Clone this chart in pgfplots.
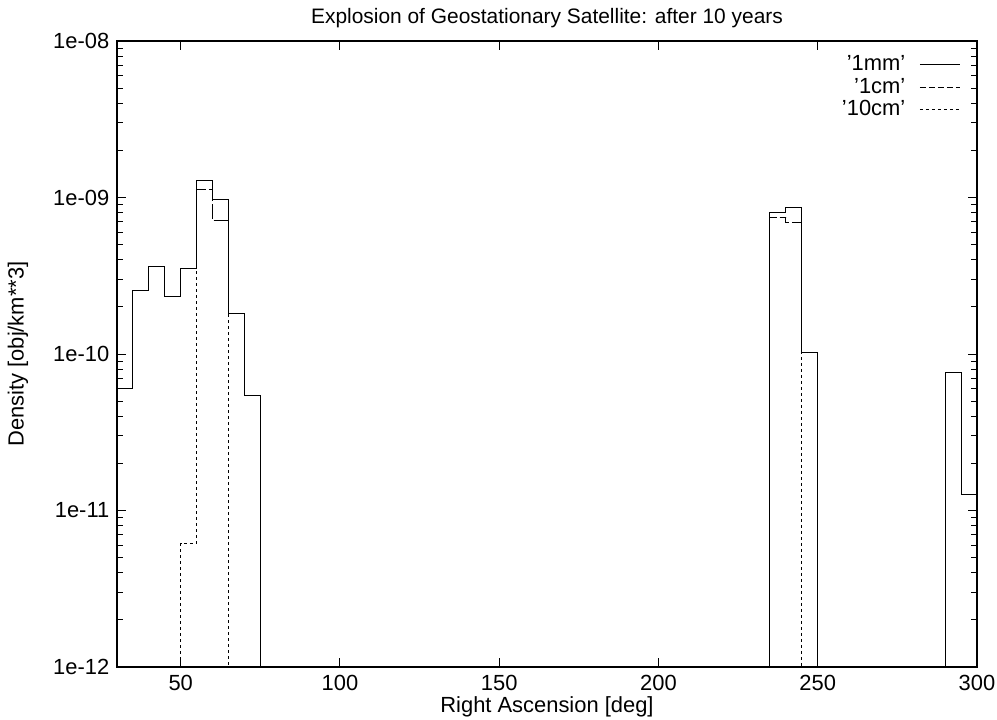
\documentclass[border=0pt]{standalone}
\usepackage{fontspec}
\setmainfont{Liberation Sans}
\usepackage{pgfplots}
\pgfplotsset{compat=1.18}
\usetikzlibrary{calc}

\begin{document}
\fontsize{11}{13}\selectfont
\begin{tikzpicture}
\begin{axis}[
  scale only axis,
  width=430bp,
  height=313bp,
  xmin=30, xmax=300,
  ymode=log,
  ymin=1e-12, ymax=1e-8,
  xtick={50,100,150,200,250,300},
  ytick={1e-12,1e-11,1e-10,1e-09,1e-08},
  yticklabels={1e-12,1e-11,1e-10,1e-09,1e-08},
  extra y ticks={2e-12,3e-12,4e-12,5e-12,6e-12,7e-12,8e-12,9e-12,
               2e-11,3e-11,4e-11,5e-11,6e-11,7e-11,8e-11,9e-11,
               2e-10,3e-10,4e-10,5e-10,6e-10,7e-10,8e-10,9e-10,
               2e-9,3e-9,4e-9,5e-9,6e-9,7e-9,8e-9,9e-9},
  extra y tick labels={},
  extra y tick style={major tick length=2.5bp},
  /pgf/number format/assume math mode=true,
  tick label style={font=\fontsize{11}{13}\selectfont},
  tick align=inside,
  tick pos=both,
  major tick length=4.5bp,
  every tick/.style={black,line width=0.5bp},
  axis line style={line width=0.6bp},
  title={Explosion of Geostationary Satellite: after 10 years},
  title style={font=\fontsize{10.5}{12}\selectfont,yshift=-3bp},
  xlabel={Right Ascension [deg]},
  ylabel={Density [obj/km**3]},
  xlabel style={font=\fontsize{11}{13}\selectfont,yshift=4.5bp},
  ylabel style={font=\fontsize{11}{13}\selectfont,yshift=5bp},
  legend style={draw=none,fill=none,at={(0.988,0.99)},anchor=north east,
                font=\fontsize{11}{13}\selectfont,row sep=-2bp,
                /tikz/column sep=5bp},
  legend cell align=right,
  legend plot pos=right,
  legend image code/.code={\draw[#1] (0bp,0bp) -- (20bp,0bp);},
  const plot mark left,
]
% 1mm
\addplot[black,solid,line width=0.5bp,mark=none] coordinates {
  (30,6.0e-11) (35,2.56e-10) (40,3.61e-10) (45,2.32e-10) (50,3.51e-10)
  (55,1.28e-9) (60,9.7e-10) (65,1.82e-10) (70,5.47e-11) (75,1e-14)
  (235,8.04e-10) (240,8.6e-10) (245,1.02e-10) (250,1e-14)
  (290,7.6e-11) (295,1.26e-11) (300,1.26e-11)};
% 1cm
\addplot[black,line width=0.5bp,mark=none,dash pattern=on 3bp off 1.5bp] coordinates {
  (30,6.0e-11) (35,2.56e-10) (40,3.61e-10) (45,2.32e-10) (50,3.51e-10)
  (55,1.12e-9) (60,7.08e-10) (65,1.82e-10) (70,5.47e-11) (75,1e-14)
  (235,7.5e-10) (240,6.9e-10) (245,1.02e-10) (250,1e-14)
  (290,7.6e-11) (295,1.26e-11) (300,1.26e-11)};
% 10cm
\addplot[black,line width=0.5bp,mark=none,dash pattern=on 1.5bp off 1.5bp] coordinates {
  (30,1e-14) (50,6.2e-12) (55,1.12e-9) (60,7.08e-10) (65,1e-14)
  (235,7.5e-10) (240,6.9e-10) (245,1e-14)
  (290,7.6e-11) (295,1.26e-11) (300,1.26e-11)};
\legend{'1mm','1cm','10cm'}
\end{axis}
\pgfresetboundingbox
\path ($(current axis.south west)+(-58.5bp,-26.5bp)$) rectangle
      ($(current axis.north east)+(10bp,20.5bp)$);
\end{tikzpicture}
\end{document}
